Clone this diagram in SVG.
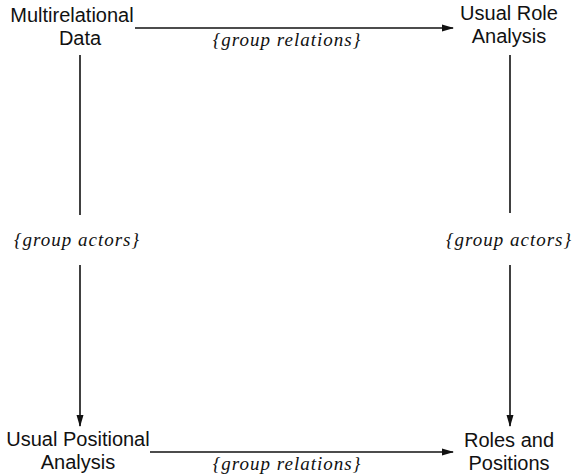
<svg xmlns="http://www.w3.org/2000/svg" width="579" height="476" viewBox="0 0 579 476">
<defs>
<marker id="ah" markerWidth="12" markerHeight="8" refX="11" refY="4" orient="auto" markerUnits="userSpaceOnUse">
<path d="M0,0.5 L12,4 L0,7.5 Z" fill="#111"/>
</marker>
<style>
.n{font-family:"Liberation Sans",Arial,sans-serif;font-size:20px;fill:#111;text-anchor:middle}
.l{font-family:"Liberation Serif","Times New Roman",serif;font-style:italic;font-size:19px;fill:#111;text-anchor:middle;letter-spacing:1px}
.c{stroke:#111;stroke-width:1.6;fill:none}
</style>
</defs>
<rect width="579" height="476" fill="#fff"/>
<g id="n1"><text class="n" x="72" y="22">Multirelational</text><text class="n" x="80" y="45">Data</text></g>
<g id="n2"><text class="n" x="509" y="20">Usual Role</text><text class="n" x="509" y="43">Analysis</text></g>
<g id="n3"><text class="n" x="78" y="446">Usual Positional</text><text class="n" x="78" y="469">Analysis</text></g>
<g id="n4"><text class="n" x="509" y="447">Roles and</text><text class="n" x="509" y="470">Positions</text></g>
<g id="connectors">
<line class="c" x1="135" y1="28" x2="453" y2="28" marker-end="url(#ah)"/>
<line class="c" x1="150" y1="452" x2="453" y2="452" marker-end="url(#ah)"/>
<line class="c" x1="80" y1="55" x2="80" y2="215"/>
<line class="c" x1="80" y1="265" x2="80" y2="426" marker-end="url(#ah)"/>
<line class="c" x1="510" y1="55" x2="510" y2="213"/>
<line class="c" x1="510" y1="265" x2="510" y2="426" marker-end="url(#ah)"/>
<text class="l" x="287" y="46">{group relations}</text>
<text class="l" x="287" y="470">{group relations}</text>
<text class="l" x="77" y="246">{group actors}</text>
<text class="l" x="509" y="246">{group actors}</text>
</g>
</svg>
